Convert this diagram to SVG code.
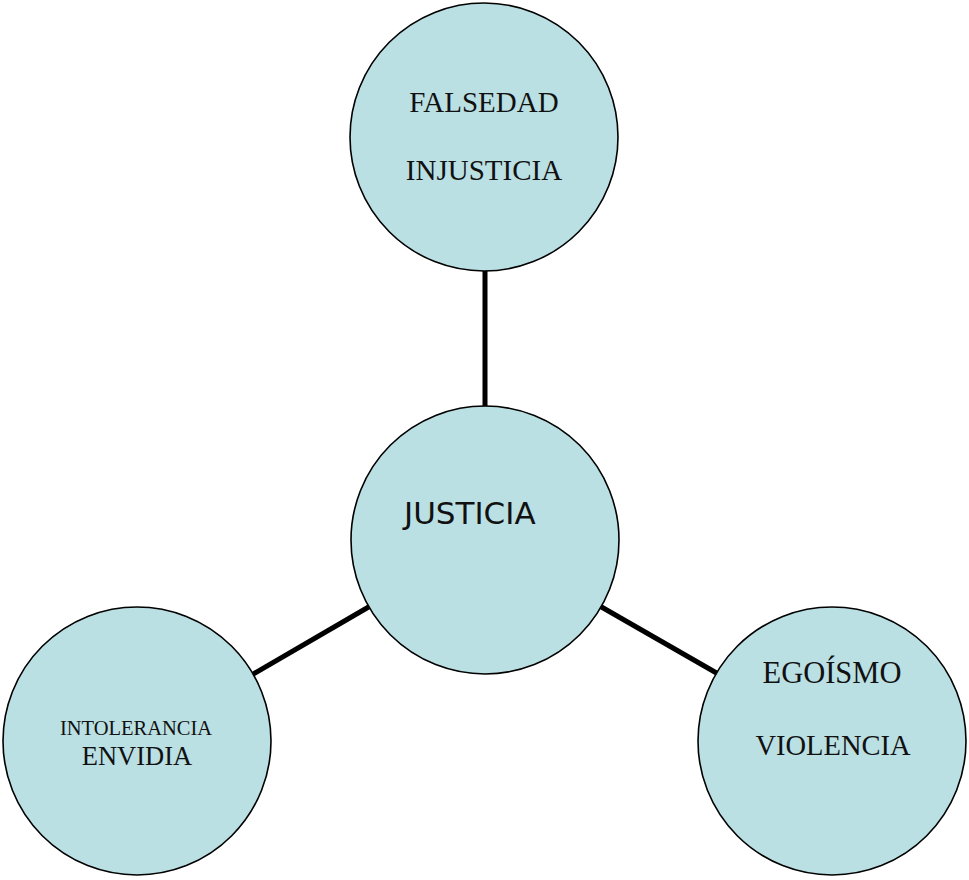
<svg xmlns="http://www.w3.org/2000/svg" width="969" height="880" viewBox="0 0 969 880">
<style>
.node{fill:#BAE0E4;stroke:#000;stroke-width:1.6}
.edge{stroke:#000;stroke-width:5;fill:none}
.serif{font-family:"Liberation Serif","Times New Roman",serif;fill:#111;text-anchor:middle}
.sans{font-family:"DejaVu Sans",Verdana,sans-serif;fill:#111}
</style>
<rect width="969" height="880" fill="#fff"/>
<g id="connectors">
<line class="edge" x1="485" y1="265" x2="485" y2="410"/>
<line class="edge" x1="250" y1="676" x2="372" y2="605"/>
<line class="edge" x1="598" y1="605" x2="720" y2="675"/>
</g>
<g id="node-top">
<circle class="node" cx="484" cy="137" r="134"/>
<text class="serif" x="484" y="112" font-size="29">FALSEDAD</text>
<text class="serif" x="484" y="180" font-size="29">INJUSTICIA</text>
</g>
<g id="node-center">
<circle class="node" cx="485" cy="540" r="134"/>
<text class="sans" x="404" y="524" font-size="31">JUSTICIA</text>
</g>
<g id="node-left">
<circle class="node" cx="137" cy="741" r="134"/>
<text class="serif" x="136" y="735" font-size="20.5">INTOLERANCIA</text>
<text class="serif" x="137" y="765" font-size="26.5">ENVIDIA</text>
</g>
<g id="node-right">
<circle class="node" cx="832" cy="741" r="134"/>
<text class="serif" x="832" y="683" font-size="30.5">EGOÍSMO</text>
<text class="serif" x="833" y="755" font-size="28.5">VIOLENCIA</text>
</g>
</svg>
